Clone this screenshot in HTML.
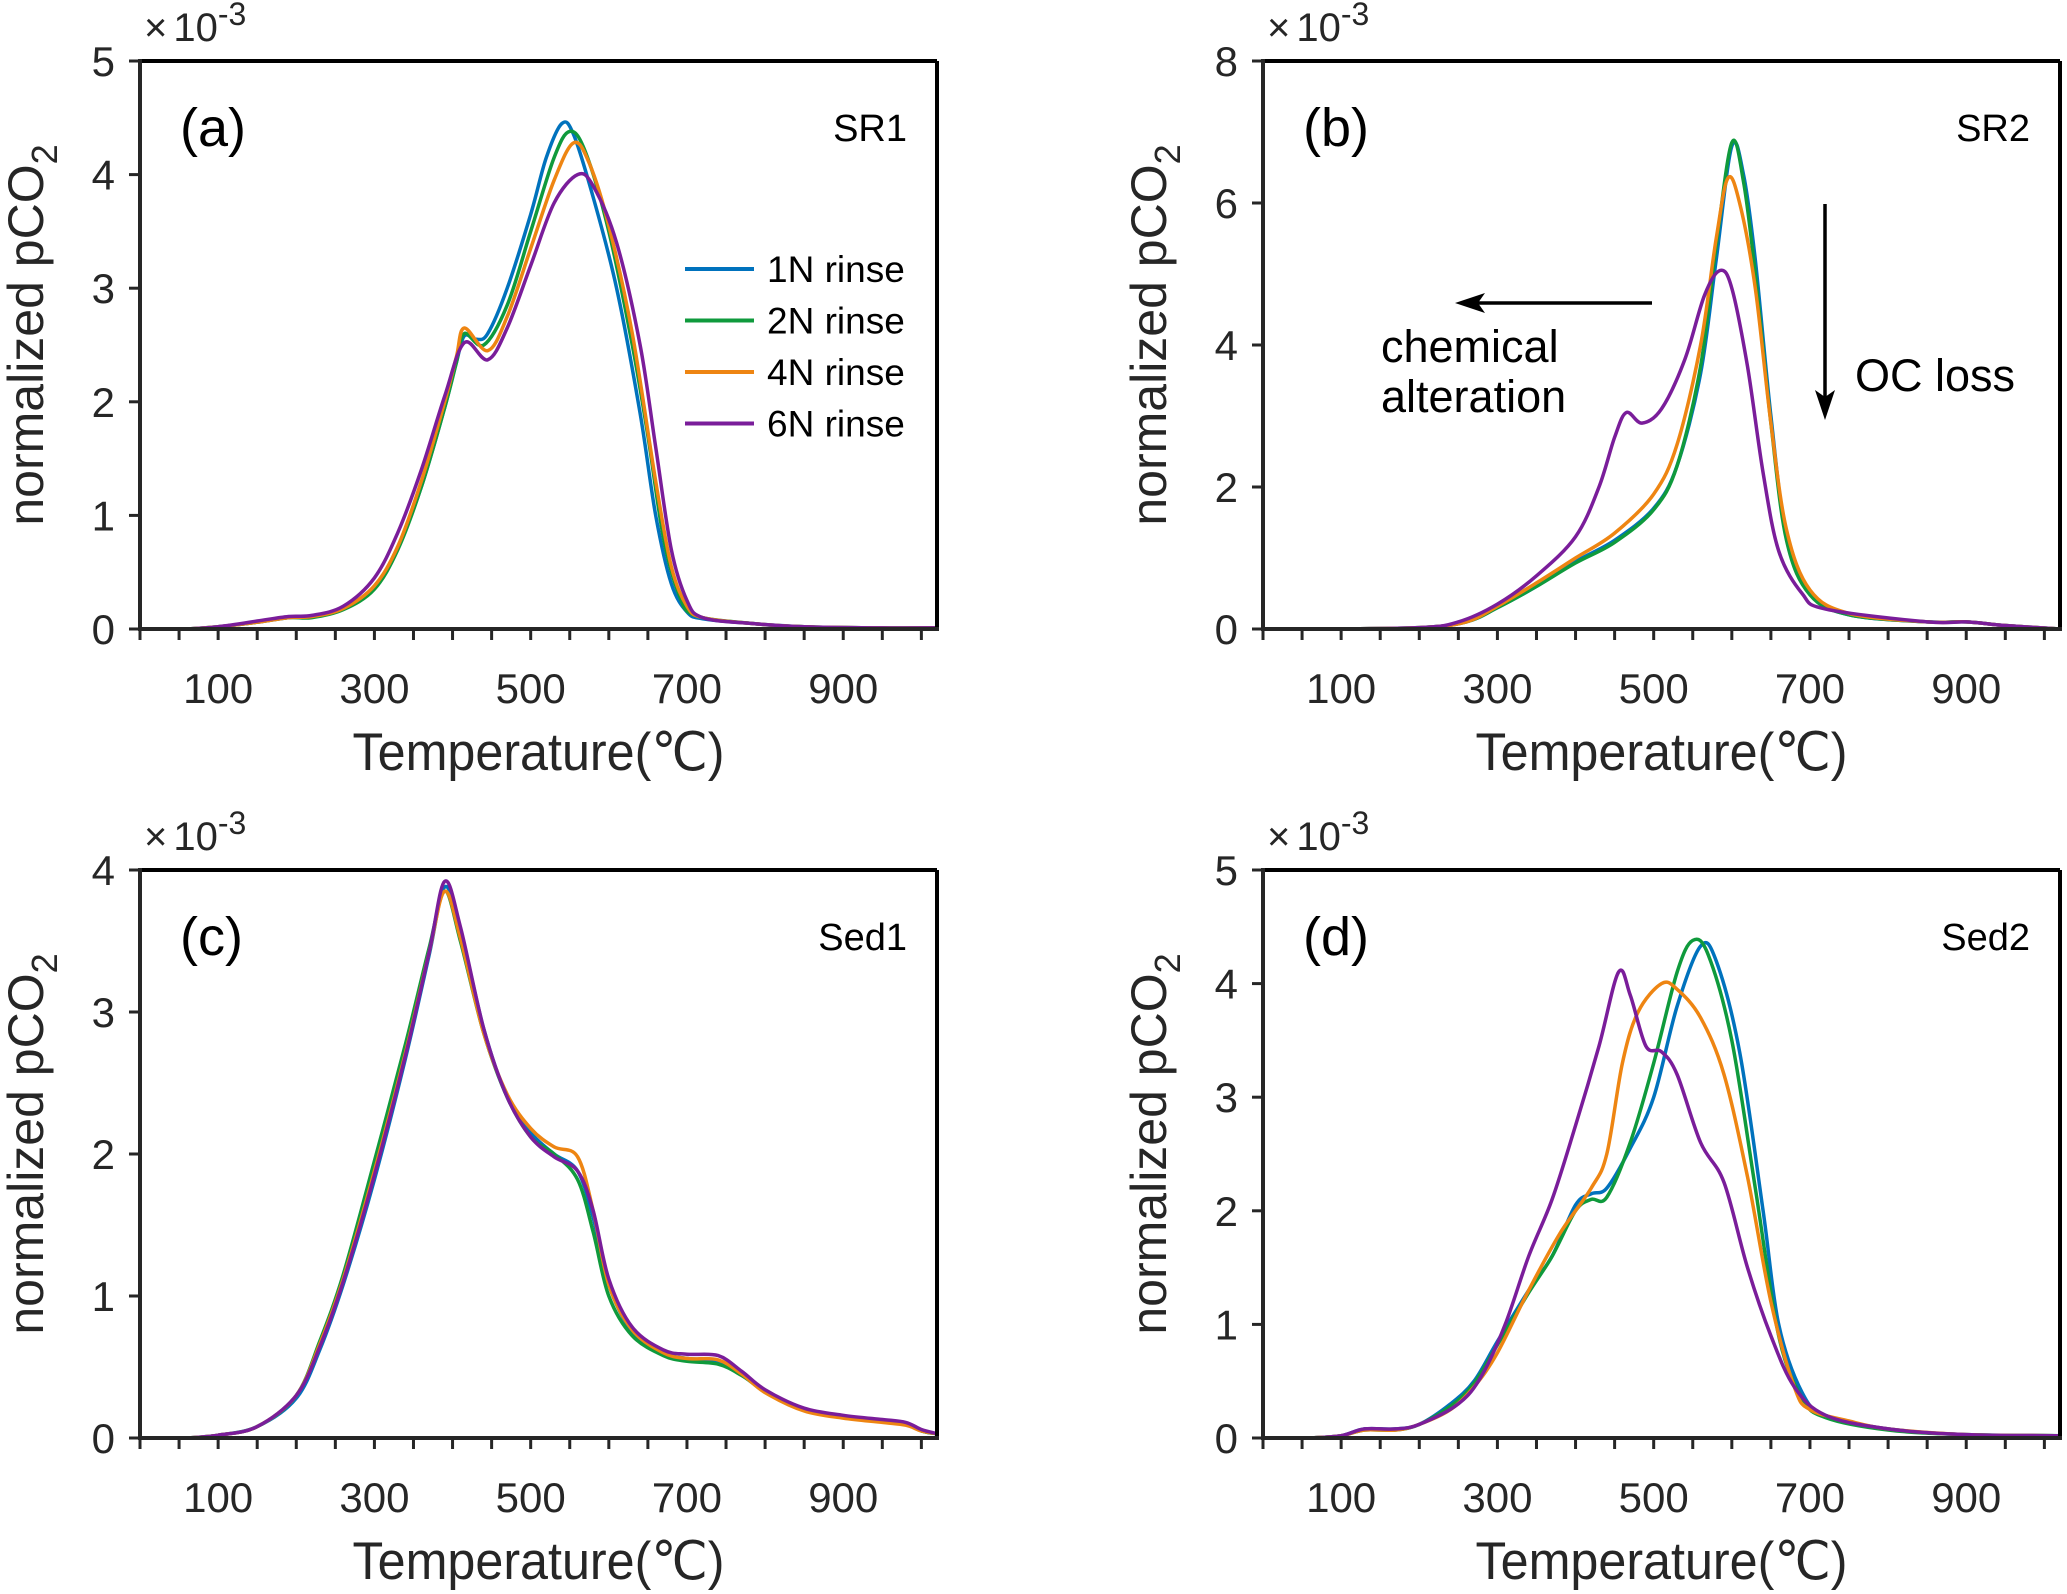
<!DOCTYPE html>
<html><head><meta charset="utf-8"><style>
html,body{margin:0;padding:0;background:#fff;}
svg{display:block;font-family:"Liberation Sans",sans-serif;}
</style></head><body>
<svg id="fig" width="2067" height="1594" viewBox="0 0 2067 1594" xmlns="http://www.w3.org/2000/svg"></svg>
<script>
const seriesNames = ["1N rinse","2N rinse","4N rinse","6N rinse"];
const seriesColors = ["#0072BD","#0F9A3C","#EE8512","#7A1D9A"];
const xTicks = [100,300,500,700,900];
// Panel a (SR1)
const aT1=[60,100,150,190,220,260,300,330,360,390,405,415,430,445,470,500,520,540,555,580,610,640,660,680,700,720,780,850,950,1020];
const aV1=[0,0.02,0.06,0.1,0.11,0.18,0.37,0.72,1.25,1.95,2.35,2.58,2.55,2.6,3.0,3.65,4.15,4.45,4.35,3.8,3.0,1.9,1.0,0.4,0.15,0.09,0.05,0.02,0.01,0.01];
const aT2=[60,100,150,190,220,260,300,330,360,390,405,415,440,470,500,530,550,570,600,630,650,670,690,710,780,850,950,1020];
const aV2=[0,0.02,0.06,0.1,0.1,0.17,0.35,0.7,1.25,1.95,2.35,2.6,2.5,2.85,3.5,4.15,4.38,4.2,3.5,2.5,1.7,0.8,0.3,0.12,0.05,0.02,0.01,0.01];
const aT3=[60,100,150,190,220,260,300,330,360,390,405,415,445,470,500,530,555,575,600,630,660,680,700,720,780,850,950,1020];
const aV3=[0,0.02,0.06,0.1,0.11,0.18,0.38,0.73,1.3,2.0,2.4,2.65,2.45,2.75,3.35,3.95,4.28,4.1,3.55,2.6,1.3,0.55,0.2,0.1,0.05,0.02,0.01,0.01];
const aT4=[60,100,150,190,220,260,300,330,360,390,415,445,470,500,530,560,580,610,640,660,680,700,720,780,850,950,1020];
const aV4=[0,0.02,0.07,0.11,0.12,0.2,0.45,0.85,1.4,2.05,2.52,2.37,2.65,3.2,3.75,4.0,3.9,3.4,2.5,1.6,0.7,0.25,0.1,0.05,0.02,0.01,0.01];
// Panel b (SR2)
const bT1=[60,200,260,300,350,400,450,500,530,560,580,600,615,630,650,670,700,750,850,900,950,1020];
const bV1=[0,0.02,0.1,0.3,0.6,0.95,1.25,1.7,2.3,3.6,5.2,6.8,6.4,5.2,3.0,1.3,0.5,0.2,0.1,0.1,0.05,0];
const bT2=[60,200,260,300,350,400,450,500,530,560,580,600,615,630,650,670,700,750,850,900,950,1020];
const bV2=[0,0.02,0.1,0.3,0.6,0.93,1.22,1.68,2.3,3.7,5.4,6.85,6.3,5.0,2.9,1.25,0.48,0.2,0.1,0.1,0.05,0];
const bT3=[60,200,260,300,350,400,450,500,530,560,580,595,610,630,650,670,700,750,850,900,950,1020];
const bV3=[0,0.02,0.1,0.32,0.65,1.0,1.35,1.9,2.6,4.0,5.5,6.35,6.0,4.8,2.9,1.4,0.55,0.22,0.1,0.1,0.05,0];
const bT4=[60,200,250,300,350,400,430,450,465,485,510,540,565,585,600,620,640,660,690,720,850,900,950,1020];
const bV4=[0,0.02,0.1,0.35,0.75,1.3,2.0,2.7,3.05,2.9,3.1,3.8,4.7,5.05,4.8,3.7,2.2,1.1,0.5,0.28,0.1,0.1,0.05,0];
// Panel c (Sed1)
const cT=[60,100,150,200,230,260,300,340,370,390,410,440,470,500,530,560,580,600,630,670,700,740,770,800,850,900,950,980,1000,1020];
const cV1=[0,0.02,0.08,0.28,0.62,1.08,1.82,2.68,3.4,3.88,3.58,2.88,2.4,2.15,2.0,1.88,1.55,1.08,0.75,0.6,0.56,0.54,0.45,0.33,0.2,0.15,0.12,0.1,0.05,0.03];
const cV2=[0,0.02,0.08,0.3,0.68,1.15,1.95,2.78,3.45,3.85,3.5,2.85,2.4,2.12,2.0,1.82,1.45,1.0,0.72,0.58,0.54,0.52,0.44,0.33,0.2,0.15,0.12,0.1,0.05,0.03];
const cV3=[0,0.02,0.08,0.3,0.66,1.12,1.88,2.72,3.42,3.85,3.52,2.85,2.42,2.18,2.05,1.98,1.6,1.08,0.76,0.6,0.56,0.55,0.45,0.32,0.19,0.14,0.11,0.09,0.05,0.03];
const cV4=[0,0.02,0.08,0.3,0.64,1.1,1.85,2.7,3.42,3.92,3.6,2.88,2.4,2.12,1.98,1.88,1.6,1.12,0.78,0.62,0.59,0.58,0.47,0.34,0.21,0.16,0.13,0.11,0.06,0.03];
// Panel d (Sed2)
const dT1=[60,100,130,170,200,240,270,300,340,370,400,420,440,470,500,530,560,580,610,640,660,690,720,800,900,1020];
const dV1=[0,0.02,0.08,0.08,0.12,0.3,0.5,0.85,1.3,1.6,2.05,2.15,2.2,2.55,3.0,3.8,4.33,4.2,3.4,2.0,1.0,0.4,0.2,0.08,0.03,0.02];
const dT2=[60,100,130,170,200,240,270,300,340,370,400,420,440,470,500,530,550,570,600,630,660,690,720,800,900,1020];
const dV2=[0,0.02,0.07,0.07,0.12,0.28,0.48,0.82,1.28,1.6,2.0,2.1,2.12,2.6,3.3,4.1,4.38,4.25,3.5,2.2,0.9,0.35,0.18,0.07,0.03,0.02];
const dT3=[60,100,130,170,200,240,270,300,340,380,420,440,460,480,510,530,560,590,620,650,680,700,750,800,900,1020];
const dV3=[0,0.02,0.07,0.07,0.12,0.25,0.45,0.75,1.3,1.8,2.2,2.5,3.3,3.75,4.0,3.95,3.7,3.2,2.3,1.2,0.45,0.25,0.15,0.08,0.03,0.02];
const dT4=[60,100,130,170,200,250,280,310,340,370,400,430,455,470,490,510,530,560,590,620,650,680,720,800,900,1020];
const dV4=[0,0.02,0.08,0.08,0.12,0.3,0.55,1.0,1.6,2.1,2.75,3.45,4.1,3.9,3.45,3.4,3.2,2.6,2.25,1.5,0.9,0.45,0.2,0.08,0.03,0.02];

const panels=[
 {id:"a",label:"(a)",title:"SR1",left:140,top:61,ymax:5,yticks:[0,1,2,3,4,5],T:[aT1,aT2,aT3,aT4],V:[aV1,aV2,aV3,aV4],legend:true},
 {id:"b",label:"(b)",title:"SR2",left:1263,top:61,ymax:8,yticks:[0,2,4,6,8],T:[bT1,bT2,bT3,bT4],V:[bV1,bV2,bV3,bV4],annot:true},
 {id:"c",label:"(c)",title:"Sed1",left:140,top:870,ymax:4,yticks:[0,1,2,3,4],T:[cT,cT,cT,cT],V:[cV1,cV2,cV3,cV4]},
 {id:"d",label:"(d)",title:"Sed2",left:1263,top:870,ymax:5,yticks:[0,1,2,3,4,5],T:[dT1,dT2,dT3,dT4],V:[dV1,dV2,dV3,dV4]}
];
const W=797,H=568,XMAX=1020;
const NS="http://www.w3.org/2000/svg";
const svg=document.getElementById("fig");
function mk(tag,attrs,parent,text){const e=document.createElementNS(NS,tag);for(const k in attrs)e.setAttribute(k,attrs[k]);if(text!==undefined)e.textContent=text;(parent||svg).appendChild(e);return e;}
function smooth(pts){let d="M"+pts[0][0].toFixed(1)+","+pts[0][1].toFixed(1);
 for(let i=0;i<pts.length-1;i++){const p0=pts[Math.max(0,i-1)],p1=pts[i],p2=pts[i+1],p3=pts[Math.min(pts.length-1,i+2)];
  const c1=[p1[0]+(p2[0]-p0[0])/6,p1[1]+(p2[1]-p0[1])/6],c2=[p2[0]-(p3[0]-p1[0])/6,p2[1]-(p3[1]-p1[1])/6];
  d+=" C"+c1[0].toFixed(1)+","+c1[1].toFixed(1)+" "+c2[0].toFixed(1)+","+c2[1].toFixed(1)+" "+p2[0].toFixed(1)+","+p2[1].toFixed(1);}
 return d;}
panels.forEach(p=>{
 const g=mk("g",{});
 
 
 const L=p.left,T=p.top,B=T+H,R=L+W;
 const xs=v=>L+v/XMAX*W, ys=v=>B-v/p.ymax*H;
 for(let s=0;s<4;s++){
  const pts=p.T[s].map((t,i)=>[xs(t),ys(p.V[s][i])]);
  const path=mk("path",{d:smooth(pts),fill:"none",stroke:seriesColors[s],"stroke-width":3.5,"stroke-linejoin":"round"},g);
  
  
 }
 mk("line",{x1:L,y1:T,x2:R,y2:T,stroke:"#000","stroke-width":4},g);
 mk("line",{x1:R,y1:T,x2:R,y2:B,stroke:"#000","stroke-width":4},g);
 const ax=mk("line",{x1:L-2,y1:B,x2:R+2,y2:B,stroke:"#262626","stroke-width":4},g);
 
 const ay=mk("line",{x1:L,y1:T-2,x2:L,y2:B+2,stroke:"#262626","stroke-width":4},g);
 
 for(let t=0;t<=XMAX;t+=50){mk("line",{x1:xs(t),y1:B,x2:xs(t),y2:B+11,stroke:"#262626","stroke-width":3},g);}
 xTicks.forEach(t=>{const e=mk("text",{x:xs(t),y:B+74,"text-anchor":"middle","font-size":42,fill:"#262626"},g,String(t));
  });
 p.yticks.forEach(t=>{mk("line",{x1:L-11,y1:ys(t),x2:L,y2:ys(t),stroke:"#262626","stroke-width":3},g);
  const e=mk("text",{x:L-25,y:ys(t)+15,"text-anchor":"end","font-size":42,fill:"#262626"},g,String(t));
  });
 const ex=mk("text",{x:L+4,y:T-20,"font-size":40,fill:"#262626"},g);
 
 ex.innerHTML='×<tspan dx="6">10</tspan><tspan dy="-16" font-size="32">-3</tspan>';
 const xl=mk("text",{x:L+W/2-186,y:B+141,"font-size":53,fill:"#262626",textLength:372,lengthAdjust:"spacingAndGlyphs"},g,"Temperature(℃)");
 
 const yl=mk("text",{transform:"translate("+(L-97)+","+(T+H/2-10)+") rotate(-90)","text-anchor":"middle","font-size":50,fill:"#262626"},g);
 
 yl.innerHTML='normalized pCO<tspan dy="14" font-size="36">2</tspan>';
 const pl=mk("text",{x:L+40,y:T+85,"font-size":54,fill:"#000"},g,p.label);
 
 const pt=mk("text",{x:R-30,y:T+80,"text-anchor":"end","font-size":38,fill:"#000"},g,p.title);
 
 if(p.legend){
  for(let s=0;s<4;s++){const y=T+208+s*51.5;
   const le=mk("g",{},g);
   
   mk("line",{x1:L+545,y1:y,x2:L+614,y2:y,stroke:seriesColors[s],"stroke-width":4},le);
   mk("text",{x:L+627,y:y+13,"font-size":37,fill:"#000"},le,seriesNames[s]);}
 }
 if(p.annot){
  const a1=mk("g",{},g);
  mk("line",{x1:1652,y1:303,x2:1475,y2:303,stroke:"#000","stroke-width":3.5},a1);
  mk("path",{d:"M1455,303 L1485,293 L1478,303 L1485,313 Z",fill:"#000"},a1);
  const t1=mk("text",{x:1381,y:362,"font-size":45,fill:"#000"},g,"chemical");
  
  const t2=mk("text",{x:1381,y:412,"font-size":45,fill:"#000"},g,"alteration");
  
  const a2=mk("g",{},g);
  mk("line",{x1:1825,y1:204,x2:1825,y2:400,stroke:"#000","stroke-width":3.5},a2);
  mk("path",{d:"M1825,420 L1815,390 L1825,397 L1835,390 Z",fill:"#000"},a2);
  const t3=mk("text",{x:1855,y:391,"font-size":45,fill:"#000"},g,"OC loss");
  
 }
});
</script>
</body></html>
